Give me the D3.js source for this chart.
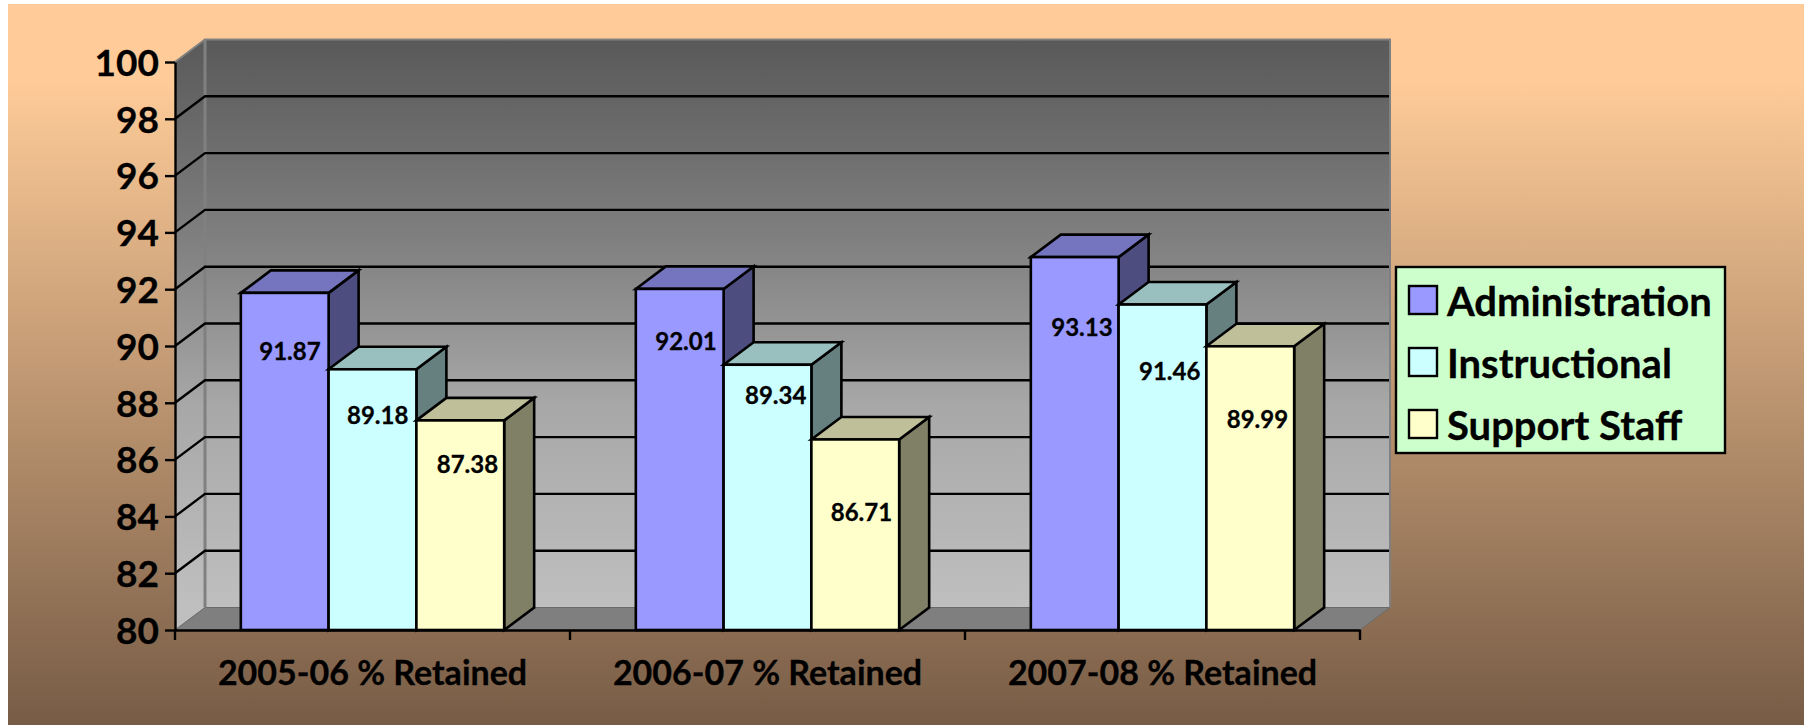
<!DOCTYPE html>
<html>
<head>
<meta charset="utf-8">
<script src="https://cdn.jsdelivr.net/npm/d3@7"></script>
<style>
    html, body { margin: 0; padding: 0; background: #fff; }
    svg { display: block; }
    text { font-family: Lato, sans-serif; font-weight: 700; fill: #000; stroke: #000; stroke-width: 0.3px; }
</style>
</head>
<body>
<div id="chart"></div>
<script>
const categories = ["2005-06 % Retained", "2006-07 % Retained", "2007-08 % Retained"];
const seriesNames = ["Administration", "Instructional", "Support Staff"];
const administration = [91.87, 92.01, 93.13];
const instructional = [89.18, 89.34, 91.46];
const supportStaff = [87.38, 86.71, 89.99];
const yTicks = [80, 82, 84, 86, 88, 90, 92, 94, 96, 98, 100];

const seriesValues = [administration, instructional, supportStaff];
const frontColors = ["#9999ff", "#ccffff", "#ffffcc"];
const topColors = ["#7474bf", "#99bfbf", "#bfbf99"];
const sideColors = ["#4d4d80", "#668080", "#808066"];

// the data labels were moved by hand in the original, so they sit at their own offsets
// from the top right corner of each bar: [series][category]
const labelDx = [[-8, -7, -6], [-8, -5, -6], [-6, -7, -6]];
const labelDy = [[59, 53, 70], [46, 31, 67], [44, 73, 73]];

const width = 1804;
const height = 725;
const depthX = 30;
const depthY = 22.5;

const svg = d3.select("#chart").append("svg")
    .attr("width", width)
    .attr("height", height);

const defs = svg.append("defs");

const bgGradient = defs.append("linearGradient")
    .attr("id", "bg")
    .attr("x1", 0).attr("y1", 0).attr("x2", 0).attr("y2", 1);
[["0%", "#ffcc99"], ["10%", "#ffcc99"], ["100%", "#775c46"]].forEach(function (s) {
    bgGradient.append("stop").attr("offset", s[0]).attr("stop-color", s[1]);
});

const wallGradient = defs.append("linearGradient")
    .attr("id", "wall")
    .attr("gradientUnits", "userSpaceOnUse")
    .attr("x1", 0).attr("y1", 39).attr("x2", 0).attr("y2", 607);
[["0%", "#595959"], ["35%", "#7f7f7f"], ["65%", "#a8a8a8"], ["100%", "#bfbfbf"]].forEach(function (s) {
    wallGradient.append("stop").attr("offset", s[0]).attr("stop-color", s[1]);
});

svg.append("rect")
    .attr("x", 8).attr("y", 4)
    .attr("width", width - 8).attr("height", height - 4)
    .attr("fill", "url(#bg)");

const y = d3.scaleLinear().domain([80, 100]).range([630, 62]);
const x = d3.scaleBand().domain(categories).range([175, 1360]);
const xSeries = d3.scaleBand()
    .domain(seriesNames)
    .range([0, x.bandwidth()])
    .paddingInner(0)
    .paddingOuter(0.75);

const left = x.range()[0];
const right = x.range()[1];

function poly(points) {
    return d3.line()(points) + "Z";
}

// left wall
svg.append("path")
    .attr("d", poly([
        [left, y(100)], [left + depthX, y(100) - depthY],
        [left + depthX, y(80) - depthY], [left, y(80)]
    ]))
    .attr("fill", "url(#wall)");

// back wall
svg.append("rect")
    .attr("x", left + depthX)
    .attr("y", y(100) - depthY)
    .attr("width", right - left)
    .attr("height", y(80) - y(100))
    .attr("fill", "url(#wall)");

// floor
svg.append("path")
    .attr("d", poly([
        [left, y(80)], [left + depthX, y(80) - depthY],
        [right + depthX, y(80) - depthY], [right, y(80)]
    ]))
    .attr("fill", "#7f7f7f")
    .attr("stroke", "#6a6a6a")
    .attr("stroke-width", 1);

// wall edges
svg.append("path")
    .attr("d", d3.line()([
        [left, y(100)], [left + depthX, y(100) - depthY],
        [right + depthX, y(100) - depthY], [right + depthX, y(80) - depthY]
    ]))
    .attr("fill", "none")
    .attr("stroke", "#808080")
    .attr("stroke-width", 2);
svg.append("line")
    .attr("x1", left + depthX).attr("x2", left + depthX)
    .attr("y1", y(100) - depthY).attr("y2", y(80) - depthY)
    .attr("stroke", "#808080")
    .attr("stroke-width", 3);

// gridlines
const gridTicks = yTicks.filter(function (d) { return d > 80 && d < 100; });
svg.append("g")
    .selectAll("path")
    .data(gridTicks)
    .join("path")
    .attr("d", function (d) {
        return d3.line()([
            [left, y(d)],
            [left + depthX, y(d) - depthY],
            [right + depthX - 1, y(d) - depthY]
        ]);
    })
    .attr("fill", "none")
    .attr("stroke", "#000")
    .attr("stroke-width", 2.4);

// bars, left to right so each one covers the side of the one before
categories.forEach(function (category, c) {
    seriesNames.forEach(function (name, s) {
        const value = seriesValues[s][c];
        const x0 = x(category) + xSeries(name);
        const x1 = x0 + xSeries.bandwidth();
        const g = svg.append("g")
            .attr("stroke", "#000")
            .attr("stroke-width", 2.6)
            .attr("stroke-linejoin", "miter");
        g.append("path")
            .attr("fill", sideColors[s])
            .attr("d", poly([
                [x1, y(value)], [x1 + depthX, y(value) - depthY],
                [x1 + depthX, y(80) - depthY], [x1, y(80)]
            ]));
        g.append("path")
            .attr("fill", topColors[s])
            .attr("d", poly([
                [x0, y(value)], [x0 + depthX, y(value) - depthY],
                [x1 + depthX, y(value) - depthY], [x1, y(value)]
            ]));
        g.append("rect")
            .attr("fill", frontColors[s])
            .attr("x", x0)
            .attr("y", y(value))
            .attr("width", x1 - x0)
            .attr("height", y(80) - y(value));
    });
});

// data labels on top of all bars
categories.forEach(function (category, c) {
    seriesNames.forEach(function (name, s) {
        const value = seriesValues[s][c];
        svg.append("text")
            .attr("x", x(category) + xSeries(name) + xSeries.bandwidth() + labelDx[s][c])
            .attr("y", y(value) + labelDy[s][c])
            .attr("dy", "0.35em")
            .attr("text-anchor", "end")
            .style("font-size", "24px")
            .text(value.toFixed(2));
    });
});

// axes
const yAxis = svg.append("g")
    .attr("transform", `translate(${left}, 0)`)
    .call(d3.axisLeft(y).tickValues(yTicks).tickSize(10).tickSizeOuter(0).tickPadding(6));
yAxis.selectAll("text").style("font-size", "37px").style("font-family", "Lato, sans-serif").attr("dy", "0.36em");

const xAxis = svg.append("g")
    .attr("transform", `translate(0, ${y(80)})`)
    .call(d3.axisBottom(x).tickSize(0).tickPadding(31));
xAxis.selectAll("text").style("font-size", "34px").style("font-family", "Lato, sans-serif").attr("dy", "0.71em");
xAxis.selectAll(".tick line").remove();

svg.append("g")
    .selectAll("line")
    .data(d3.range(categories.length + 1))
    .join("line")
    .attr("x1", function (i) { return left + i * x.step(); })
    .attr("x2", function (i) { return left + i * x.step(); })
    .attr("y1", y(80))
    .attr("y2", y(80) + 10)
    .attr("stroke", "#000")
    .attr("stroke-width", 2.4);

svg.selectAll(".domain, .tick line")
    .attr("stroke", "#000")
    .attr("stroke-width", 2.4);

// legend
const legend = svg.append("g").attr("transform", "translate(1396, 267)");
legend.append("rect")
    .attr("width", 329)
    .attr("height", 186)
    .attr("fill", "#ccffcc")
    .attr("stroke", "#000")
    .attr("stroke-width", 2.4);

const legendRow = d3.scalePoint().domain(seriesNames).range([33, 157]);

legend.selectAll("rect.swatch")
    .data(seriesNames)
    .join("rect")
    .attr("class", "swatch")
    .attr("x", 13)
    .attr("y", function (d) { return legendRow(d) - 14; })
    .attr("width", 28)
    .attr("height", 28)
    .attr("fill", function (d, i) { return frontColors[i]; })
    .attr("stroke", "#000")
    .attr("stroke-width", 2.4);

legend.selectAll("text")
    .data(seriesNames)
    .join("text")
    .attr("x", 51)
    .attr("y", function (d) { return legendRow(d) + 2; })
    .attr("dy", "0.35em")
    .style("font-size", "40px")
    .text(function (d) { return d; });
</script>
</body>
</html>
